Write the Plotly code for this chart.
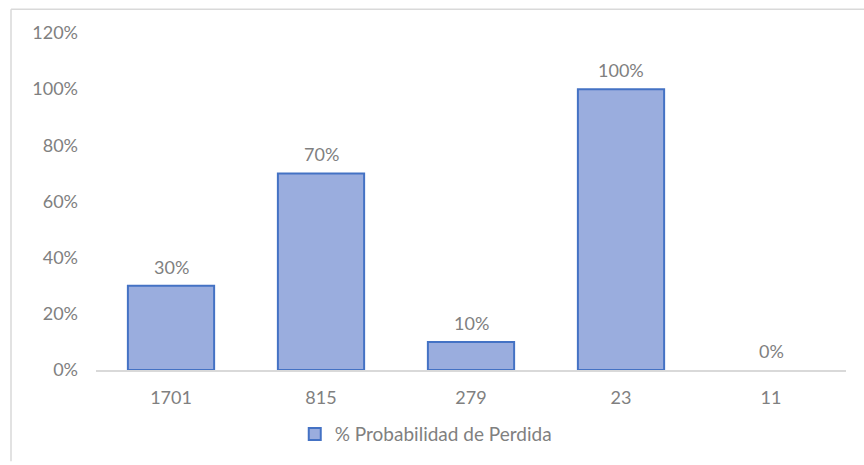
import plotly.graph_objects as go

categories = ["1701", "815", "279", "23", "11"]
probabilidad = [0.30, 0.70, 0.10, 1.00, 0.00]
y_ticks = [0, 0.2, 0.4, 0.6, 0.8, 1.0, 1.2]
y_tick_labels = ["0%", "20%", "40%", "60%", "80%", "100%", "120%"]
series_name = "% Probabilidad de Perdida"

label_font = dict(family="Lato, Calibri, sans-serif", size=18, color="#808080")

fig = go.Figure()
fig.add_trace(go.Bar(
    x=categories,
    y=probabilidad,
    name=series_name,
    width=0.575,
    marker=dict(
        color="#9aadde",
        line=dict(color="#4472c4", width=[2 if v > 0 else 0 for v in probabilidad]),
    ),
))

# value labels above each bar (category axis positions are serial indices)
annotations = [
    dict(x=i, y=v, xref="x", yref="y", text=f"{v:.0%}", showarrow=False,
         yanchor="middle", yshift=19, font=label_font)
    for i, v in enumerate(probabilidad)
]

fig.update_layout(
    width=864,
    height=465,
    margin=dict(l=96, r=18, t=33, b=92),
    paper_bgcolor="white",
    plot_bgcolor="white",
    font=label_font,
    showlegend=True,
    legend=dict(
        orientation="h",
        x=0.265, xanchor="left",
        y=-0.19, yanchor="middle",
        font=dict(family="Lato, Calibri, sans-serif", size=19, color="#808080"),
    ),
    xaxis=dict(
        type="category",
        range=[-0.5, len(categories) - 0.5],
        showline=True, linecolor="#d9d9d9", linewidth=2,
        showgrid=False, ticks="", ticklabelstandoff=10,
        tickfont=label_font,
    ),
    yaxis=dict(
        range=[0, 1.2],
        tickvals=y_ticks, ticktext=y_tick_labels,
        showgrid=False, zeroline=False, showline=False,
        ticks="", ticklabelstandoff=17,
        tickfont=label_font,
    ),
    annotations=annotations,
    shapes=[
        # chart frame (left and top edges)
        dict(type="line", xref="paper", yref="paper",
             x0=-85 / 750, x1=-85 / 750, y0=-92 / 340, y1=1 + 24 / 340,
             line=dict(color="#d9d9d9", width=1.5)),
        dict(type="line", xref="paper", yref="paper",
             x0=-85 / 750, x1=1.03, y0=1 + 24 / 340, y1=1 + 24 / 340,
             line=dict(color="#d9d9d9", width=1.5)),
    ],
)

fig.write_html("out.html")
